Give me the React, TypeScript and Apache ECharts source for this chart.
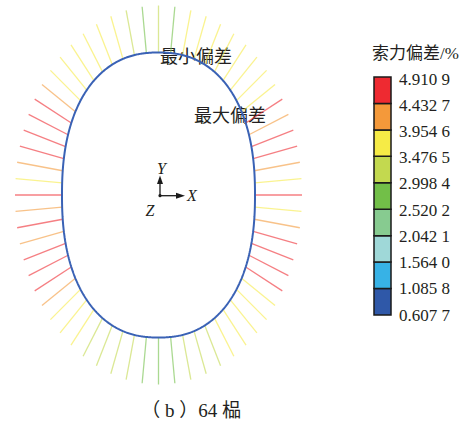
import React, { useEffect, useRef } from "react";
import * as echarts from "echarts";

// ---- data ----
// cable force deviation (%) for the 64 cables, index 0 = top, going clockwise
const cableDeviation: number[] = [
  3.21, 2.86, 3.62, 3.71, 3.68, 3.74, 3.66, 3.79, 3.72, 3.83,
  4.68, 4.18, 4.91, 4.57, 4.22, 3.81, 4.63,
  3.77, 4.13, 4.52, 4.71, 4.66, 4.55,
  3.85, 3.74, 3.69, 3.61, 3.56, 3.28, 3.19, 3.12, 2.93, 2.81,
  2.89, 3.15, 3.23, 3.31, 3.42, 3.58, 3.66, 3.79, 4.06,
  4.61, 4.74, 4.58, 4.19, 4.67, 4.25, 4.72, 3.84,
  4.28, 4.63, 4.81, 4.69, 4.54, 4.11,
  3.88, 3.73, 3.67, 3.64, 3.7, 3.59, 3.36, 2.78,
];
const legendBreaks: number[] = [0.6077, 1.0858, 1.564, 2.0421, 2.5202, 2.9984, 3.4765, 3.9546, 4.4327, 4.9109];
const legendLabels: string[] = ["0.607 7", "1.085 8", "1.564 0", "2.042 1", "2.520 2", "2.998 4", "3.476 5", "3.954 6", "4.432 7", "4.910 9"];
const legendColors: string[] = ["#2f58a8", "#37b2e6", "#9fd8d8", "#87cb90", "#72bf48", "#c3d94f", "#f6eb46", "#f4993a", "#ee2a31"];
const legendTitle = "索力偏差/%";
const maxLabel = "最大偏差";
const minLabel = "最小偏差";
const caption = "（ b ）64 榀";

// ---- geometry of the ring plan ----
const INNER = { a: 96.5, b: 142.5, n: 2.3 };
const OUTER = { a: 143.5, b: 189.5, n: 2 };

function superPoint(t: number, s: { a: number; b: number; n: number }): [number, number] {
  const c = Math.cos(t);
  const si = Math.sin(t);
  return [
    s.a * Math.sign(c) * Math.pow(Math.abs(c), 2 / s.n),
    s.b * Math.sign(si) * Math.pow(Math.abs(si), 2 / s.n),
  ];
}

function densePoints(s: { a: number; b: number; n: number }, M: number): [number, number][] {
  const pts: [number, number][] = [];
  for (let j = 0; j <= M; j++) {
    pts.push(superPoint(Math.PI / 2 - (2 * Math.PI * j) / M, s));
  }
  return pts;
}

function equalArc(s: { a: number; b: number; n: number }, count: number): [number, number][] {
  const pts = densePoints(s, 8000);
  const cum: number[] = [0];
  for (let j = 1; j < pts.length; j++) {
    const dx = pts[j][0] - pts[j - 1][0];
    const dy = pts[j][1] - pts[j - 1][1];
    cum.push(cum[j - 1] + Math.hypot(dx, dy));
  }
  const L = cum[cum.length - 1];
  const out: [number, number][] = [];
  let j = 0;
  for (let k = 0; k < count; k++) {
    const target = (k * L) / count;
    while (j < cum.length - 2 && cum[j + 1] < target) j++;
    const f = cum[j + 1] === cum[j] ? 0 : (target - cum[j]) / (cum[j + 1] - cum[j]);
    out.push([
      pts[j][0] + f * (pts[j + 1][0] - pts[j][0]),
      pts[j][1] + f * (pts[j + 1][1] - pts[j][1]),
    ]);
  }
  return out;
}

export default function App() {
  const ref = useRef<HTMLDivElement>(null);
  useEffect(() => {
    if (!ref.current) return;
    const chart = echarts.init(ref.current, undefined, { renderer: "svg" });
    const n = cableDeviation.length;
    const innerPts = equalArc(INNER, n);
    const outerPts = equalArc(OUTER, n);
    const ovalPts = densePoints(INNER, 720);

    const serif = "'Liberation Serif', 'Noto Sans CJK SC', serif";
    const boxX = 374;
    const boxW = 17;
    const boxTop = 77;
    const boxBottom = 315;
    const segH = (boxBottom - boxTop) / legendColors.length;

    const graphics: any[] = [];
    legendColors.forEach((c, i) => {
      const idxFromTop = legendColors.length - 1 - i;
      graphics.push({
        type: "rect",
        shape: { x: boxX, y: boxTop + idxFromTop * segH, width: boxW, height: segH },
        style: { fill: c, stroke: "#1a1a1a", lineWidth: 1.5 },
      });
    });
    legendLabels.forEach((t, i) => {
      const idxFromTop = legendLabels.length - 1 - i;
      graphics.push({
        type: "text",
        x: 399,
        y: 79 + idxFromTop * ((315 - 79) / 9),
        style: { text: t, font: `17px ${serif}`, fill: "#231f20", textVerticalAlign: "middle", textAlign: "left" },
      });
    });
    graphics.push({
      type: "text",
      x: 372,
      y: 53,
      style: { text: legendTitle, font: `17px ${serif}`, fill: "#231f20", textVerticalAlign: "middle", textAlign: "left" },
    });
    graphics.push({
      type: "text",
      x: 160,
      y: 57,
      style: { text: minLabel, font: `18px ${serif}`, fill: "#231f20", textVerticalAlign: "middle", textAlign: "left" },
    });
    graphics.push({
      type: "text",
      x: 194,
      y: 116,
      style: { text: maxLabel, font: `18px ${serif}`, fill: "#231f20", textVerticalAlign: "middle", textAlign: "left" },
    });
    graphics.push({
      type: "text",
      x: 191,
      y: 410,
      style: { text: caption, font: `19px ${serif}`, fill: "#231f20", textVerticalAlign: "middle", textAlign: "center" },
    });
    const ox = 160;
    const oy = 195.7;
    graphics.push({ type: "line", shape: { x1: ox, y1: oy, x2: ox, y2: 182 }, style: { stroke: "#1a1a1a", lineWidth: 1.3 } });
    graphics.push({ type: "polygon", shape: { points: [[ox, 175.5], [ox - 3, 184], [ox + 3, 184]] }, style: { fill: "#1a1a1a" } });
    graphics.push({ type: "line", shape: { x1: ox, y1: oy, x2: 177, y2: oy }, style: { stroke: "#1a1a1a", lineWidth: 1.3 } });
    graphics.push({ type: "polygon", shape: { points: [[185, oy], [176, oy - 3], [176, oy + 3]] }, style: { fill: "#1a1a1a" } });
    graphics.push({ type: "circle", shape: { cx: ox, cy: oy, r: 1.6 }, style: { fill: "#1a1a1a" } });
    graphics.push({ type: "text", x: 161.5, y: 168, style: { text: "Y", font: `italic 16px ${serif}`, fill: "#231f20", textAlign: "center", textVerticalAlign: "middle" } });
    graphics.push({ type: "text", x: 192, y: 195, style: { text: "X", font: `italic 16px ${serif}`, fill: "#231f20", textAlign: "center", textVerticalAlign: "middle" } });
    graphics.push({ type: "text", x: 150, y: 210, style: { text: "Z", font: `italic 16px ${serif}`, fill: "#231f20", textAlign: "center", textVerticalAlign: "middle" } });

    const pieces = legendColors.map((c, i) => ({ min: legendBreaks[i], max: legendBreaks[i + 1], color: c }));

    chart.setOption({
      animation: false,
      backgroundColor: "#ffffff",
      grid: { left: 8.5, top: 0, width: 300, height: 390, containLabel: false },
      xAxis: { type: "value", min: -150, max: 150, show: false },
      yAxis: { type: "value", min: -195, max: 195, show: false },
      visualMap: { type: "piecewise", show: false, seriesIndex: 0, dimension: 1, pieces },
      series: [
        {
          type: "custom",
          coordinateSystem: "cartesian2d",
          clip: false,
          data: cableDeviation.map((v, i) => [i, v]),
          renderItem: (params: any, api: any) => {
            const i = api.value(0);
            const p1 = api.coord(innerPts[i]);
            const p2 = api.coord(outerPts[i]);
            return {
              type: "line",
              shape: { x1: p1[0], y1: p1[1], x2: p2[0], y2: p2[1] },
              style: { stroke: api.visual("color"), lineWidth: 1.3, opacity: 0.6 },
            };
          },
          z: 1,
        },
        {
          type: "line",
          data: ovalPts,
          showSymbol: false,
          symbol: "none",
          smooth: false,
          silent: true,
          lineStyle: { color: "#3a62b5", width: 2 },
          z: 2,
        },
      ],
      graphic: graphics,
    });
    return () => chart.dispose();
  }, []);
  return (
    <div
      ref={ref}
      style={{ position: "fixed", left: 0, top: 0, width: 472, height: 434, background: "#fff" }}
    />
  );
}
